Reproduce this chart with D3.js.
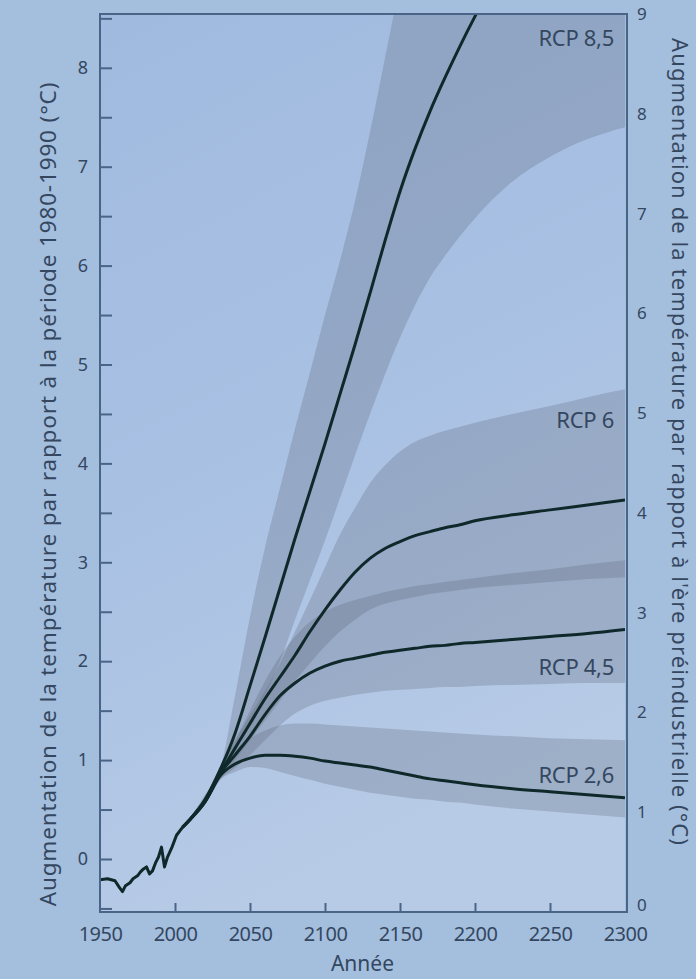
<!DOCTYPE html>
<html>
<head>
<meta charset="utf-8">
<script src="https://cdn.jsdelivr.net/npm/d3@7"></script>
<style>
  html, body { margin: 0; padding: 0; background: #a4bede; }
  svg { display: block; }
  text { font-family: "Noto Sans", "Open Sans", sans-serif; fill: #34475f; }
</style>
</head>
<body>
<svg id="chart" width="696" height="979"></svg>
<script>
// Observed temperature anomaly (°C, relative to 1980-1990)
const histYears  = [1950, 1955, 1960, 1963, 1965, 1967, 1970, 1972, 1975, 1977, 1979, 1981, 1983, 1985, 1987, 1989, 1991, 1993, 1995, 1998, 2001, 2005];
const histValues = [-0.21, -0.2, -0.22, -0.29, -0.33, -0.27, -0.24, -0.2, -0.17, -0.13, -0.1, -0.08, -0.15, -0.12, -0.04, 0.02, 0.12, -0.08, 0.02, 0.12, 0.24, 0.32];

// Projection years shared by all scenarios
const projYears = [2005, 2010, 2020, 2030, 2040, 2050, 2060, 2070, 2080, 2090, 2100, 2110, 2120, 2130, 2140, 2150, 2160, 2170, 2180, 2190, 2200, 2225, 2250, 2275, 2300];

const rcp85Mean = [0.32, 0.4, 0.6, 0.9, 1.27, 1.75, 2.24, 2.74, 3.24, 3.72, 4.2, 4.7, 5.2, 5.72, 6.25, 6.75, 7.18, 7.56, 7.9, 8.22, 8.52, 9.2, 9.8, 10.3, 10.7];
const rcp85High = [0.32, 0.42, 0.65, 0.9, 1.65, 2.45, 3.15, 3.75, 4.35, 4.92, 5.5, 6.05, 6.65, 7.35, 8.1, 8.85, 9.6, 10.3, 11.0, 11.6, 12.2, 13.5, 14.5, 15.3, 16.0];
const rcp85Low  = [0.32, 0.38, 0.55, 0.82, 1.15, 1.38, 1.66, 2.0, 2.42, 2.82, 3.22, 3.65, 4.08, 4.5, 4.9, 5.27, 5.6, 5.88, 6.1, 6.3, 6.48, 6.85, 7.1, 7.28, 7.4];

const rcp6Mean = [0.32, 0.4, 0.58, 0.86, 1.12, 1.37, 1.62, 1.84, 2.06, 2.3, 2.52, 2.72, 2.9, 3.04, 3.14, 3.21, 3.27, 3.31, 3.35, 3.38, 3.42, 3.48, 3.53, 3.58, 3.63];
const rcp6High = [0.32, 0.42, 0.63, 0.92, 1.2, 1.45, 1.7, 1.98, 2.3, 2.62, 2.95, 3.28, 3.55, 3.8, 3.98, 4.12, 4.22, 4.28, 4.33, 4.37, 4.41, 4.5, 4.58, 4.67, 4.75];
const rcp6Low  = [0.32, 0.38, 0.55, 0.8, 1.0, 1.2, 1.4, 1.6, 1.8, 1.98, 2.15, 2.3, 2.42, 2.52, 2.58, 2.62, 2.65, 2.68, 2.7, 2.72, 2.74, 2.77, 2.8, 2.83, 2.85];

const rcp45Mean = [0.32, 0.4, 0.58, 0.86, 1.05, 1.24, 1.46, 1.65, 1.78, 1.88, 1.95, 2.0, 2.03, 2.06, 2.09, 2.11, 2.13, 2.15, 2.16, 2.18, 2.19, 2.22, 2.25, 2.28, 2.32];
const rcp45High = [0.32, 0.42, 0.62, 0.92, 1.2, 1.5, 1.8, 2.05, 2.25, 2.4, 2.5, 2.57, 2.62, 2.66, 2.7, 2.73, 2.76, 2.78, 2.8, 2.82, 2.84, 2.89, 2.93, 2.98, 3.02];
const rcp45Low  = [0.32, 0.38, 0.55, 0.8, 0.92, 1.05, 1.2, 1.35, 1.47, 1.55, 1.6, 1.63, 1.66, 1.68, 1.7, 1.71, 1.72, 1.73, 1.74, 1.74, 1.75, 1.76, 1.77, 1.78, 1.78];

const rcp26Mean = [0.32, 0.4, 0.58, 0.84, 0.96, 1.02, 1.05, 1.05, 1.04, 1.02, 0.99, 0.97, 0.95, 0.93, 0.9, 0.87, 0.84, 0.81, 0.79, 0.77, 0.75, 0.71, 0.68, 0.65, 0.62];
const rcp26High = [0.32, 0.42, 0.62, 0.9, 1.1, 1.22, 1.3, 1.35, 1.37, 1.37, 1.36, 1.35, 1.34, 1.33, 1.32, 1.31, 1.3, 1.29, 1.28, 1.27, 1.26, 1.24, 1.22, 1.21, 1.2];
const rcp26Low  = [0.32, 0.38, 0.55, 0.8, 0.88, 0.93, 0.92, 0.88, 0.84, 0.8, 0.76, 0.73, 0.7, 0.67, 0.65, 0.63, 0.61, 0.6, 0.58, 0.57, 0.55, 0.51, 0.48, 0.45, 0.42];

const scenarioNames = ["RCP 8,5", "RCP 6", "RCP 4,5", "RCP 2,6"];
const labelValues   = [8.3, 4.44, 1.94, 0.85];   // vertical anchor of each scenario label (left scale)

const xTicks      = [1950, 2000, 2050, 2100, 2150, 2200, 2250, 2300];
const leftTicks   = [0, 1, 2, 3, 4, 5, 6, 7, 8];
const leftMinor   = [-0.5, 0.5, 1.5, 2.5, 3.5, 4.5, 5.5, 6.5, 7.5, 8.5];
const rightTicks  = [0, 1, 2, 3, 4, 5, 6, 7, 8, 9];

const leftTitle  = "Augmentation de la température par rapport à la période 1980-1990 (°C)";
const rightTitle = "Augmentation de la température par rapport à l'ère préindustrielle (°C)";
const xTitle     = "Année";

(function draw() {
  const scenarios = [
    { name: scenarioNames[0], mean: rcp85Mean, high: rcp85High, low: rcp85Low, label: labelValues[0] },
    { name: scenarioNames[1], mean: rcp6Mean,  high: rcp6High,  low: rcp6Low,  label: labelValues[1] },
    { name: scenarioNames[2], mean: rcp45Mean, high: rcp45High, low: rcp45Low, label: labelValues[2] },
    { name: scenarioNames[3], mean: rcp26Mean, high: rcp26High, low: rcp26Low, label: labelValues[3] }
  ];

  const svg = d3.select("#chart");
  const pLeft = 100, pRight = 625, pTop = 14, pBottom = 912;

  const x  = d3.scaleLinear().domain([1950, 2300]).range([pLeft, pRight]);
  const y  = d3.scaleLinear().domain([-0.536, 8.544]).range([pBottom, pTop]);
  const y2 = d3.scaleLinear().domain([0, 9]).range([pBottom, pTop]);

  const defs = svg.append("defs");
  const grad = defs.append("linearGradient").attr("id", "plotBg")
    .attr("x1", 0).attr("y1", 0).attr("x2", 0.3).attr("y2", 1);
  grad.append("stop").attr("offset", "0%").attr("stop-color", "#a0badf");
  grad.append("stop").attr("offset", "55%").attr("stop-color", "#a9c1e3");
  grad.append("stop").attr("offset", "100%").attr("stop-color", "#b7cbe6");

  defs.append("clipPath").attr("id", "plotClip")
    .append("rect").attr("x", pLeft).attr("y", pTop)
    .attr("width", pRight - pLeft).attr("height", pBottom - pTop);

  svg.append("rect").attr("x", 0).attr("y", 0).attr("width", 696).attr("height", 979).attr("fill", "#a4bede");
  svg.append("rect").attr("x", pLeft).attr("y", pTop)
    .attr("width", pRight - pLeft).attr("height", pBottom - pTop).attr("fill", "url(#plotBg)");

  const plot = svg.append("g").attr("clip-path", "url(#plotClip)");

  // uncertainty ranges
  const area = d3.area()
    .x((d, i) => x(projYears[i]))
    .y0(d => y(d[0]))
    .y1(d => y(d[1]))
    .curve(d3.curveMonotoneX);

  plot.selectAll("path.band").data(scenarios).join("path")
    .attr("class", "band")
    .attr("d", s => area(s.low.map((v, i) => [v, s.high[i]])))
    .attr("fill", "rgb(92,100,118)")
    .attr("fill-opacity", 0.27);

  // central estimates
  const line = d3.line()
    .x((d, i) => x(projYears[i]))
    .y(d => y(d))
    .curve(d3.curveMonotoneX);

  plot.selectAll("path.mean").data(scenarios).join("path")
    .attr("class", "mean")
    .attr("d", s => line(s.mean))
    .attr("fill", "none")
    .attr("stroke", "#0f292b")
    .attr("stroke-width", 3)
    .attr("stroke-linejoin", "round");

  // observations
  const histLine = d3.line()
    .x((d, i) => x(histYears[i]))
    .y(d => y(d))
    .curve(d3.curveLinear);

  plot.append("path")
    .attr("d", histLine(histValues))
    .attr("fill", "none")
    .attr("stroke", "#0f292b")
    .attr("stroke-width", 3)
    .attr("stroke-linejoin", "round");

  // scenario labels
  svg.selectAll("text.scen").data(scenarios).join("text")
    .attr("class", "scen")
    .attr("x", pRight - 11)
    .attr("y", s => y(s.label))
    .attr("dy", "0.36em")
    .attr("text-anchor", "end")
    .attr("font-size", 22)
    .attr("letter-spacing", "-0.3")
    .text(s => s.name);

  // axes
  const axisColor = "#4a6488";

  const gLeft = svg.append("g").attr("transform", `translate(${pLeft},0)`)
    .call(d3.axisLeft(y).tickValues(leftTicks).tickFormat(d3.format("d"))
      .tickSizeInner(-12).tickSizeOuter(0).tickPadding(12));
  const gLeftMinor = svg.append("g").attr("transform", `translate(${pLeft},0)`)
    .call(d3.axisLeft(y).tickValues(leftMinor).tickFormat("")
      .tickSizeInner(-12).tickSizeOuter(0));
  const gBottom = svg.append("g").attr("transform", `translate(0,${pBottom})`)
    .call(d3.axisBottom(x).tickValues(xTicks).tickFormat(d3.format("d"))
      .tickSizeInner(-9).tickSizeOuter(0).tickPadding(15));
  const gRight = svg.append("g").attr("transform", `translate(${pRight + 2},0)`)
    .call(d3.axisRight(y2).tickValues(rightTicks).tickFormat(d3.format("d"))
      .tickSize(0).tickPadding(10));

  [gLeft, gLeftMinor, gBottom, gRight].forEach(g => {
    g.select(".domain").remove();
    g.selectAll(".tick line").attr("stroke", axisColor).attr("stroke-width", 2);
    g.selectAll(".tick text").attr("fill", "#34475f")
      .attr("font-family", "'Noto Sans', sans-serif");
  });
  gLeft.selectAll(".tick text").attr("font-size", 18);
  gRight.selectAll(".tick text").attr("font-size", 17);
  // the bottom label of the right axis sits just above the last year label
  gRight.selectAll(".tick text").filter(d => d === 0).attr("dy", "-0.1em");
  gBottom.selectAll(".tick text").attr("font-size", 20).attr("letter-spacing", "-0.5");
  gBottom.selectAll(".tick line").filter(d => d === 1950 || d === 2300).remove();

  // frame
  svg.append("rect").attr("x", pLeft).attr("y", pTop)
    .attr("width", pRight + 2 - pLeft).attr("height", pBottom - pTop)
    .attr("fill", "none").attr("stroke", axisColor).attr("stroke-width", 2);

  // titles
  svg.append("text")
    .attr("transform", "translate(56,494) rotate(-90)")
    .attr("text-anchor", "middle")
    .attr("font-size", 22.5)
    .attr("letter-spacing", "0.85")
    .text(leftTitle);

  svg.append("text")
    .attr("transform", "translate(672,442) rotate(90)")
    .attr("text-anchor", "middle")
    .attr("font-size", 22)
    .attr("letter-spacing", "1.1")
    .text(rightTitle);

  svg.append("text")
    .attr("x", (pLeft + pRight) / 2)
    .attr("y", 971)
    .attr("text-anchor", "middle")
    .attr("font-size", 21)
    .text(xTitle);
})();
</script>
</body>
</html>
